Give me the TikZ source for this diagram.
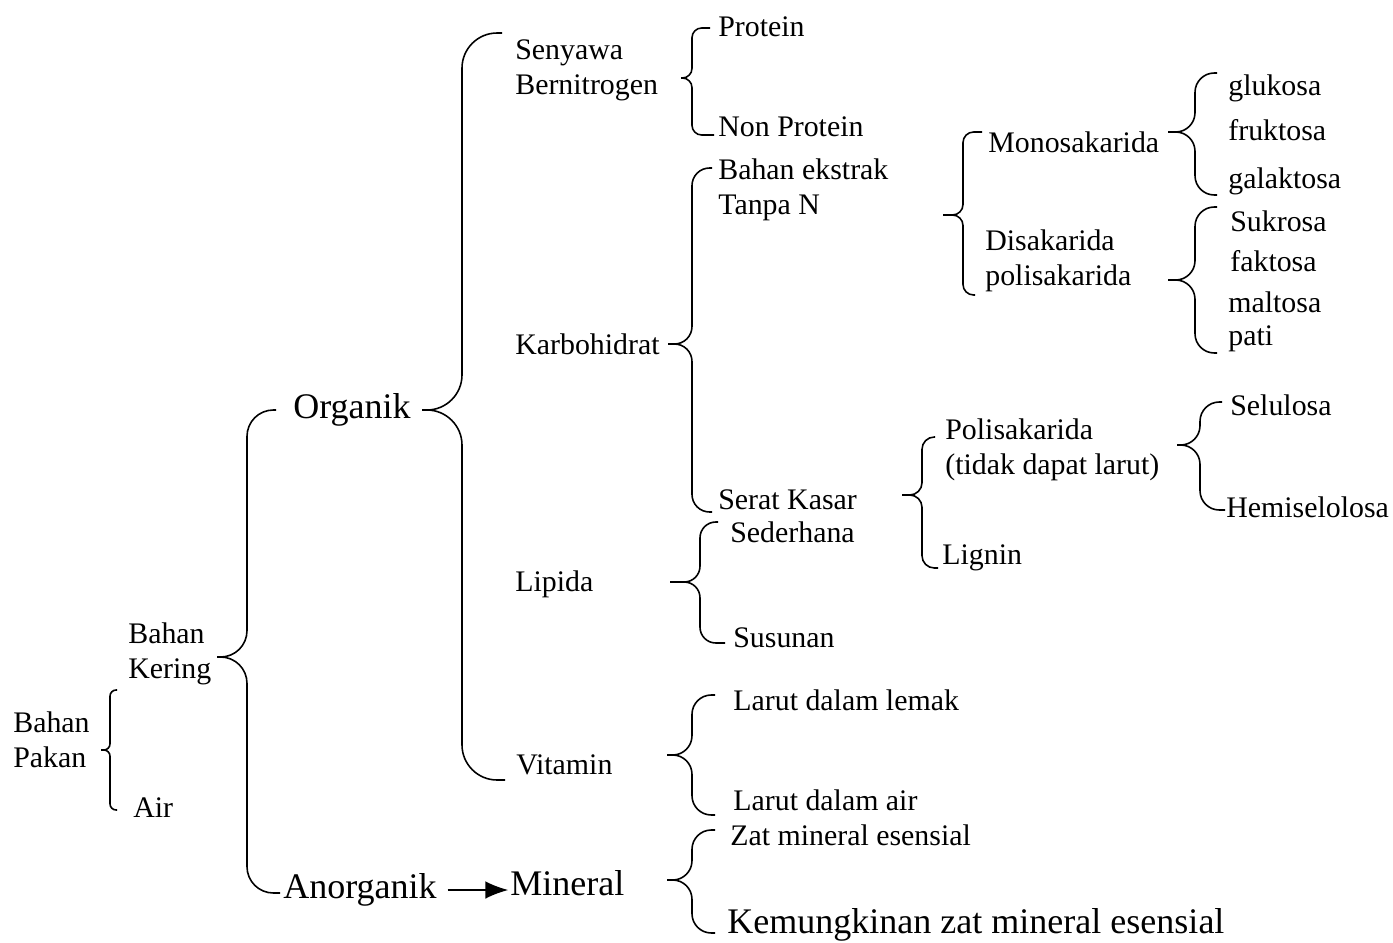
\documentclass[tikz,border=0pt]{standalone}
\usepackage{fontspec}
\setmainfont{Liberation Serif}
\usetikzlibrary{calc,arrows.meta}

\begin{document}
\begin{tikzpicture}[x=0.02cm,y=-0.02cm,
        txt/.style={anchor=west,inner sep=0pt,align=left,font=\fontsize{17}{20}\selectfont},
        besar/.style={txt,font=\fontsize{20.5}{24}\selectfont},
        kurung/.style={line width=0.9pt,rounded corners=#1},
        kurung/.default=8pt]
        \useasboundingbox (0,0) rectangle (1393,943);

        \node[txt] at (13,740)      (bp)    {Bahan\\Pakan};
        \node[txt] at (128,654)     (bk)    {Bahan\\Kering};
        \node[txt] at (133,808)     (air)   {Air};
        \node[besar] at (293,410)   (org)   {Organik};
        \node[besar] at (283,890)   (anorg) {Anorganik};
        \node[besar] at (510,883)   (min)   {Mineral};
        \node[txt] at (515,70)      (sen)   {Senyawa\\Bernitrogen};
        \node[txt] at (515,344)     (karb)  {Karbohidrat};
        \node[txt] at (515,584)     (lip)   {Lipida};
        \node[txt] at (516,765)     (vit)   {Vitamin};
        \node[txt] at (718,27)      (prot)  {Protein};
        \node[txt] at (718,127)     (nprot) {Non Protein};
        \node[txt] at (718,190)     (beta)  {Bahan ekstrak\\Tanpa N};
        \node[txt] at (718,500)     (serat) {Serat Kasar};
        \node[txt] at (730,532)     (sed)   {Sederhana};
        \node[txt] at (733,638)     (sus)   {Susunan};
        \node[txt] at (733,700)     (lemak) {Larut dalam lemak};
        \node[txt] at (733,800)     (lair)  {Larut dalam air};
        \node[txt] at (730,835)     (zat)   {Zat mineral esensial};
        \node[besar] at (727,925)   (kem)   {Kemungkinan zat mineral esensial};
        \node[txt] at (988,142)     (mono)  {Monosakarida};
        \node[txt] at (985,261)     (disa)  {Disakarida\\polisakarida};
        \node[txt] at (1228,88)     (glu)   {glukosa};
        \node[txt] at (1228,130)    (fru)   {fruktosa};
        \node[txt] at (1228,181)    (gal)   {galaktosa};
        \node[txt] at (1230,221)    (suk)   {Sukrosa};
        \node[txt] at (1230,261)    (fak)   {faktosa};
        \node[txt] at (1228,302)    (mal)   {maltosa};
        \node[txt] at (1228,339)    (pati)  {pati};
        \node[txt] at (945,450)     (poli)  {Polisakarida\\(tidak dapat larut)};
        \node[txt] at (942,558)     (lig)   {Lignin};
        \node[txt] at (1230,405)    (sel)   {Selulosa};
        \node[txt] at (1226,507)    (hemi)  {Hemiselolosa};

        % ujung kurung
        \coordinate (t-bp)    at (101,750);
        \coordinate (t-bk)    at (217,657);
        \coordinate (t-org)   at (422,410);
        \coordinate (t-sen)   at (681,78);
        \coordinate (t-karb)  at (668,344);
        \coordinate (t-lip)   at (670,582);
        \coordinate (t-vit)   at (667,755);
        \coordinate (t-min)   at (667,880);
        \coordinate (t-beta)  at (943,215);
        \coordinate (t-mono)  at (1168,132);
        \coordinate (t-disa)  at (1168,280);
        \coordinate (t-serat) at (902,495);
        \coordinate (t-poli)  at (1177,445);

        \draw[kurung=3.5pt] ($(bk.west)+(-11,36)$) -| ($(t-bp)+(9,0)$) -- (t-bp);
        \draw[kurung=3.5pt] ($(air.west)+(-16,2)$) -| ($(t-bp)+(9,0)$) -- (t-bp);
        \draw[kurung=15pt] ($(org.west)+(-17,0)$) -| ($(t-bk)+(30,0)$) -- (t-bk);
        \draw[kurung=15pt] ($(anorg.west)+(-3,3)$) -| ($(t-bk)+(30,0)$) -- (t-bk);
        \draw[kurung=20pt] ($(sen.west)+(-13,-37)$) -| ($(t-org)+(40,0)$) -- (t-org);
        \draw[kurung=20pt] ($(vit.west)+(-11,15)$) -| ($(t-org)+(40,0)$) -- (t-org);
        \draw[kurung=5.5pt] ($(prot.west)+(-8,1)$) -| ($(t-sen)+(11,0)$) -- (t-sen);
        \draw[kurung=5.5pt] ($(nprot.west)+(-4,8)$) -| ($(t-sen)+(11,0)$) -- (t-sen);
        \draw[kurung=10pt] ($(beta.west)+(-6,-22)$) -| ($(t-karb)+(24,0)$) -- (t-karb);
        \draw[kurung=10pt] ($(serat.west)+(-6,12)$) -| ($(t-karb)+(24,0)$) -- (t-karb);
        \draw[kurung=9pt] ($(sed.west)+(-12,-10)$) -| ($(t-lip)+(30,0)$) -- (t-lip);
        \draw[kurung=9pt] ($(sus.west)+(-8,5)$) -| ($(t-lip)+(30,0)$) -- (t-lip);
        \draw[kurung=11pt] ($(lemak.west)+(-18,-5)$) -| ($(t-vit)+(25,0)$) -- (t-vit);
        \draw[kurung=11pt] ($(lair.west)+(-18,15)$) -| ($(t-vit)+(25,0)$) -- (t-vit);
        \draw[kurung=11pt] ($(zat.west)+(-15,-5)$) -| ($(t-min)+(25,0)$) -- (t-min);
        \draw[kurung=11pt] ($(kem.west)+(-12,8)$) -| ($(t-min)+(25,0)$) -- (t-min);
        \draw[kurung=6pt] ($(mono.west)+(-6,-10)$) -| ($(t-beta)+(20,0)$) -- (t-beta);
        \draw[kurung=6pt] ($(disa.west)+(-10,34)$) -| ($(t-beta)+(20,0)$) -- (t-beta);
        \draw[kurung=11pt] ($(glu.west)+(-11,-15)$) -| ($(t-mono)+(27,0)$) -- (t-mono);
        \draw[kurung=11pt] ($(gal.west)+(-11,14)$) -| ($(t-mono)+(27,0)$) -- (t-mono);
        \draw[kurung=11pt] ($(suk.west)+(-13,-14)$) -| ($(t-disa)+(27,0)$) -- (t-disa);
        \draw[kurung=11pt] ($(pati.west)+(-11,14)$) -| ($(t-disa)+(27,0)$) -- (t-disa);
        \draw[kurung=7pt] ($(poli.west)+(-10,-13)$) -| ($(t-serat)+(20,0)$) -- (t-serat);
        \draw[kurung=7pt] ($(lig.west)+(-4,10)$) -| ($(t-serat)+(20,0)$) -- (t-serat);
        \draw[kurung=11pt] ($(sel.west)+(-8,-3)$) -| ($(t-poli)+(23,0)$) -- (t-poli);
        \draw[kurung=11pt] ($(hemi.west)+(-1,3)$) -| ($(t-poli)+(23,0)$) -- (t-poli);

        \draw[line width=0.9pt,-{Latex[length=13pt,width=10pt]},shorten <=6pt,shorten >=1pt]
            (anorg.east) -- (anorg.east -| min.west);
    \end{tikzpicture}
\end{document}
